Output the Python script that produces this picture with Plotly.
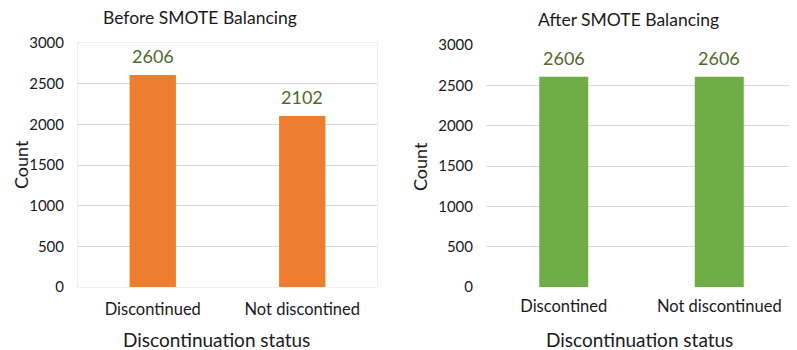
import plotly.graph_objects as go

# page body has an 8px margin: size the figure so it fits in the 797x350 window
OFF = 8
W, H = 797 - OFF, 350 - OFF

cats_before = ["Discontinued", "Not discontined"]
vals_before = [2606, 2102]
cats_after = ["Discontined", "Not discontinued"]
vals_after = [2606, 2606]
yticks = [0, 500, 1000, 1500, 2000, 2500, 3000]
title_before = "Before SMOTE Balancing"
title_after = "After SMOTE Balancing"
x_title = "Discontinuation status"
y_title = "Count"

FONT = "Lato"
TXT = "#1a1a1a"
LBL = "#4e6b2e"


def px(x):
    return (x - OFF) / W


def py(y):
    return 1 - (y - OFF) / H


fig = go.Figure()
fig.add_trace(go.Bar(x=cats_before, y=vals_before, marker_color="#ED7D31",
                     width=0.31, xaxis="x", yaxis="y", showlegend=False))
fig.add_trace(go.Bar(x=cats_after, y=vals_after, marker_color="#70AD47",
                     width=0.315, xaxis="x2", yaxis="y2", showlegend=False))

ann = []
for c, v in zip(cats_before, vals_before):
    ann.append(dict(x=c, y=v, xref="x", yref="y", text=str(v), showarrow=False,
                    xanchor="center", yanchor="bottom", yshift=6,
                    font=dict(size=18, color=LBL, family=FONT)))
for c, v in zip(cats_after, vals_after):
    ann.append(dict(x=c, y=v, xref="x2", yref="y2", text=str(v), showarrow=False,
                    xanchor="center", yanchor="bottom", yshift=6,
                    font=dict(size=18, color=LBL, family=FONT)))


def label(x, y, text, size, angle=0):
    return dict(x=px(x), y=py(y), xref="paper", yref="paper", text=text, showarrow=False,
                xanchor="center", yanchor="middle", textangle=angle,
                font=dict(size=size, color=TXT, family=FONT))


ann += [
    label(200, 18, title_before, 17.5),
    label(628, 19, title_after, 17.5),
    label(216, 339, x_title, 19),
    label(639, 339, x_title, 19),
    label(21, 165, y_title, 18, -90),
    label(420, 166, y_title, 18, -90),
]

tickfont = dict(size=15, color=TXT, family=FONT)
xtickfont = dict(size=16.5, color=TXT, family=FONT)

fig.update_layout(
    template="none",
    width=W, height=H, autosize=False, margin=dict(l=0, r=0, t=0, b=0),
    paper_bgcolor="white", plot_bgcolor="white",
    annotations=ann,
    xaxis=dict(domain=[px(78), px(377)], showgrid=False, tickfont=xtickfont, ticks="",
               showline=True, mirror=True, linecolor="#efefef", linewidth=1, anchor="y",
               ticklabelstandoff=7, automargin=False),
    yaxis=dict(domain=[py(287), py(43)], range=[0, 3000], tickvals=yticks, showgrid=True,
               gridcolor="#d9d9d9", gridwidth=1, tickfont=tickfont, ticks="", zeroline=False,
               showline=True, mirror=True, linecolor="#efefef", anchor="x", ticklabelstandoff=10,
               automargin=False),
    xaxis2=dict(domain=[px(486), px(797)], showgrid=False, tickfont=xtickfont, ticks="",
                showline=False, anchor="y2", ticklabelstandoff=7, automargin=False),
    yaxis2=dict(domain=[py(287), py(45)], range=[0, 3000], tickvals=yticks, showgrid=True,
                gridcolor="#d9d9d9", gridwidth=1, tickfont=tickfont, ticks="", zeroline=False,
                anchor="x2", ticklabelstandoff=12, automargin=False),
)

fig.write_html("out.html")
